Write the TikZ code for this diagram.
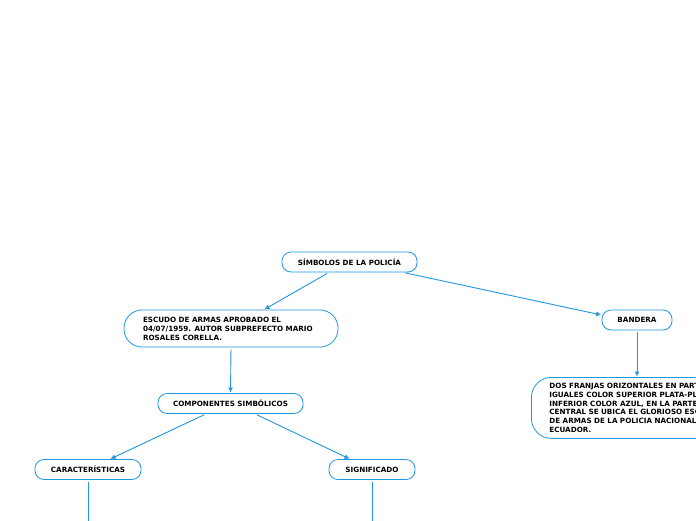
\documentclass[tikz,border=0pt]{standalone}
\usepackage{fontspec}
\setmainfont{DejaVu Sans}
\usetikzlibrary{arrows.meta}
\definecolor{mblue}{RGB}{33,150,227}
\tikzset{
  box/.style={draw=mblue, line width=0.8pt, fill=white, font=\fontsize{7.2}{8.9}\selectfont\bfseries, inner ysep=2pt},
  pill/.style={box, rounded corners=9pt, align=center, minimum height=20pt},
  conn/.style={draw=mblue, line width=0.9pt, -{Latex[length=5pt,width=5pt]}, shorten <=2pt, shorten >=0.5pt},
  plain/.style={draw=mblue, line width=0.9pt, shorten <=2pt}
}
\begin{document}
\begin{tikzpicture}[x=1pt,y=-1pt]
\clip (0,0) rectangle (696,520);
\fill[white] (0,0) rectangle (696,520);
\node[pill, minimum width=135pt] (root) at (349.5,262) {SÍMBOLOS DE LA POLICÍA};
\node[box, rounded corners=18pt, align=left, text width=176pt, inner xsep=19pt, minimum height=37pt] (escudo) at (231,328.5) {ESCUDO DE ARMAS APROBADO EL\\04/07/1959. AUTOR SUBPREFECTO MARIO\\ROSALES CORELLA.};
\node[pill, minimum width=70pt] (bandera) at (637,320) {BANDERA};
\node[box, rounded corners=20pt, align=left, text width=210pt, inner xsep=18pt, minimum height=61pt, anchor=north west] (btext) at (531,377) {DOS FRANJAS ORIZONTALES EN PARTES\\IGUALES COLOR SUPERIOR PLATA-PLOMO\\INFERIOR COLOR AZUL, EN LA PARTE\\CENTRAL SE UBICA EL GLORIOSO ESCUDO\\DE ARMAS DE LA POLICIA NACIONAL DEL\\ECUADOR.};
\node[pill, minimum width=145pt] (comp) at (230.5,403.5) {COMPONENTES SIMBÓLICOS};
\node[pill, minimum width=106pt] (car) at (88,469.5) {CARACTERÍSTICAS};
\node[pill, minimum width=86pt] (sig) at (372,469.5) {SIGNIFICADO};
\coordinate (carend) at (88,522);
\coordinate (sigend) at (372,522);
\draw[conn] ([xshift=-20.5pt]root.south) -- ([xshift=33pt]escudo.north);
\draw[conn] ([xshift=53.5pt]root.south) -- ([yshift=5pt]bandera.west);
\draw[conn] (escudo.south) -- (comp.north);
\draw[conn] (bandera.south) -- (btext.north -| bandera.south);
\draw[conn] ([xshift=-24.5pt]comp.south) -- ([xshift=22pt]car.north);
\draw[conn] ([xshift=24.5pt]comp.south) -- ([xshift=-22pt]sig.north);
\draw[plain] (car.south) -- (carend);
\draw[plain] (sig.south) -- (sigend);
\end{tikzpicture}
\end{document}
